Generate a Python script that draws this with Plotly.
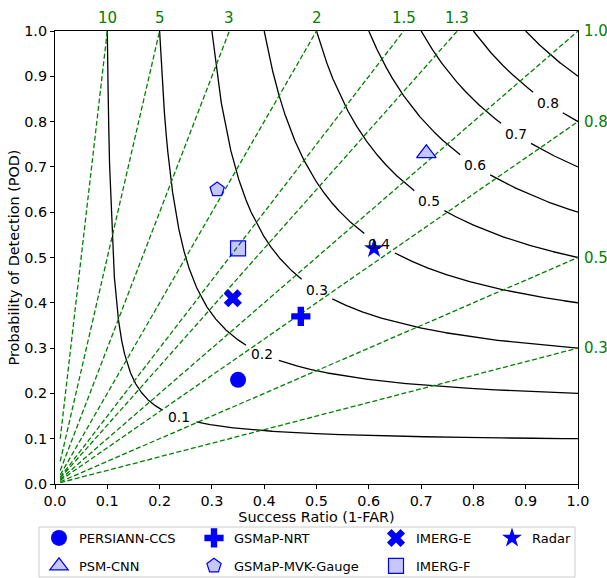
import numpy as np
import plotly.graph_objects as go

# ---- data -------------------------------------------------------------
csi_levels = [0.1, 0.2, 0.3, 0.4, 0.5, 0.6, 0.7, 0.8, 0.9]
# success ratio at which each CSI contour carries its inline label (None = no label)
csi_label_sr = [0.237, 0.396, 0.50, 0.62, 0.715, 0.803, 0.881, 0.942, None]

bias_levels = [10, 5, 3, 2, 1.5, 1.3, 1.0, 0.8, 0.5, 0.3]
bias_labels = ["10", "5", "3", "2", "1.5", "1.3", "1.0", "0.8", "0.5", "0.3"]

products = ["PERSIANN-CCS", "PSM-CNN", "GSMaP-NRT", "GSMaP-MVK-Gauge",
            "IMERG-E", "IMERG-F", "Radar"]
success_ratio = [0.35, 0.71, 0.47, 0.31, 0.34, 0.35, 0.61]
pod = [0.23, 0.73, 0.37, 0.65, 0.41, 0.52, 0.52]

# ---- geometry ---------------------------------------------------------
W, H = 607, 578
ML, MR, MT, MB = 55, 29, 31, 94
PW, PH = W - ML - MR, H - MT - MB
FONT = "DejaVu Sans"
GREEN = "#008000"
BLUE = "#0000ff"
TICK_SIZE = 14.4
GREEN_SIZE = 15
LEGEND_SIZE = 13
CONTOUR_SIZE = 13.8

fig = go.Figure()


def csi_curve(c, n=1500):
    """Points of constant CSI inside the unit square."""
    s = 2 * c / (1 + c)
    p_top = np.linspace(1.0, s, n)
    sr_top = 1.0 / (1.0 / c - 1.0 / p_top + 1.0)
    sr_bot = np.linspace(s, 1.0, n)
    p_bot = 1.0 / (1.0 / c - 1.0 / sr_bot + 1.0)
    return np.concatenate([sr_top, sr_bot]), np.concatenate([p_top, p_bot])


# CSI contours (black), broken where the inline label sits
for c, lsr in zip(csi_levels, csi_label_sr):
    sr, pd_ = csi_curve(c)
    sr = sr.astype(float)
    pd_ = pd_.astype(float)
    if lsr is not None:
        lpod = 1.0 / (1.0 / c - 1.0 / lsr + 1.0)
        dist = np.hypot((sr - lsr) * PW, (pd_ - lpod) * PH)
        mask = dist < 18
        sr[mask] = np.nan
        pd_[mask] = np.nan
        fig.add_annotation(x=lsr, y=lpod, xref="x", yref="y", text=f"{c:.1f}",
                           showarrow=False, xanchor="center", yanchor="middle",
                           font=dict(family=FONT, size=CONTOUR_SIZE, color="black"))
    fig.add_trace(go.Scatter(x=sr, y=pd_, mode="lines", showlegend=False,
                             hoverinfo="skip", connectgaps=False,
                             line=dict(color="black", width=1.3)))

# frequency bias lines (green, dashed)
for b, lab in zip(bias_levels, bias_labels):
    x_end = min(1.0, 1.0 / b)
    fig.add_trace(go.Scatter(x=[0.01, x_end], y=[0.01 * b, b * x_end],
                             mode="lines", showlegend=False, hoverinfo="skip",
                             line=dict(color=GREEN, width=1.3, dash="5px,2.5px")))
    if b > 1:
        fig.add_annotation(x=1.0 / b, y=1.0, xref="x", yref="y", text=lab,
                           showarrow=False, xanchor="center", yanchor="bottom",
                           yshift=2, font=dict(family=FONT, size=GREEN_SIZE, color=GREEN))
    else:
        fig.add_annotation(x=1.0, y=b, xref="x", yref="y", text=lab,
                           showarrow=False, xanchor="left", yanchor="middle",
                           xshift=4, font=dict(family=FONT, size=GREEN_SIZE, color=GREEN))

# product markers
solid = dict(color=BLUE, line=dict(width=0))
hatched = dict(color="rgba(0,0,255,0.22)", line=dict(color=BLUE, width=1.2))
styles = {
    "PERSIANN-CCS": ("circle", 16, solid, "legend"),
    "PSM-CNN": ("triangle-up", 17, hatched, "legend"),
    "GSMaP-NRT": ("cross", 16, solid, "legend2"),
    "GSMaP-MVK-Gauge": ("pentagon", 15, hatched, "legend2"),
    "IMERG-E": ("x", 16, solid, "legend3"),
    "IMERG-F": ("square", 15, hatched, "legend3"),
    "Radar": ("star", 15, solid, "legend4"),
}
for name, sx, sy in zip(products, success_ratio, pod):
    sym, size, mk, leg = styles[name]
    fig.add_trace(go.Scatter(x=[sx], y=[sy], mode="markers", name=name,
                             legend=leg, legendgroup=name,
                             marker=dict(symbol=sym, size=size, **mk)))

# ---- axes ---------------------------------------------------------------
tick_vals = [i / 10 for i in range(11)]
axis_common = dict(range=[0, 1], tickvals=tick_vals,
                   ticktext=[f"{v:.1f}" for v in tick_vals],
                   showgrid=False, zeroline=False, showline=True,
                   linecolor="black", linewidth=1, mirror=True,
                   ticks="outside", ticklen=4, tickwidth=1, tickcolor="black",
                   automargin=False,
                   tickfont=dict(family=FONT, size=TICK_SIZE, color="black"))
fig.update_xaxes(**axis_common,
                 title=dict(text="Success Ratio (1-FAR)", standoff=1,
                            font=dict(family=FONT, size=TICK_SIZE, color="black")))
fig.update_yaxes(**axis_common,
                 title=dict(text="Probability of Detection (POD)", standoff=1,
                            font=dict(family=FONT, size=TICK_SIZE, color="black")))


def px_x(px):
    return (px - ML) / PW


def px_y(py):
    return (H - MB - py) / PH


legend_common = dict(orientation="v", xanchor="left", yanchor="top",
                     bgcolor="rgba(0,0,0,0)", borderwidth=0, tracegroupgap=8,
                     font=dict(family=FONT, size=LEGEND_SIZE, color="black"))
legend_text_x = [81, 236, 418, 534]
legend_top = 523
leg_names = ["legend", "legend2", "legend3", "legend4"]
layout_legends = {}
for ln, tx in zip(leg_names, legend_text_x):
    layout_legends[ln] = dict(legend_common, x=px_x(tx - 42), y=px_y(legend_top))

fig.add_shape(type="rect", xref="paper", yref="paper",
              x0=px_x(39), x1=px_x(575), y0=px_y(577), y1=px_y(527),
              line=dict(color="#cccccc", width=1), fillcolor="rgba(0,0,0,0)")

fig.update_layout(width=W, height=H,
                  margin=dict(l=ML, r=MR, t=MT, b=MB, pad=0, autoexpand=False),
                  plot_bgcolor="white", paper_bgcolor="white",
                  **layout_legends)

fig.write_html("out.html")
